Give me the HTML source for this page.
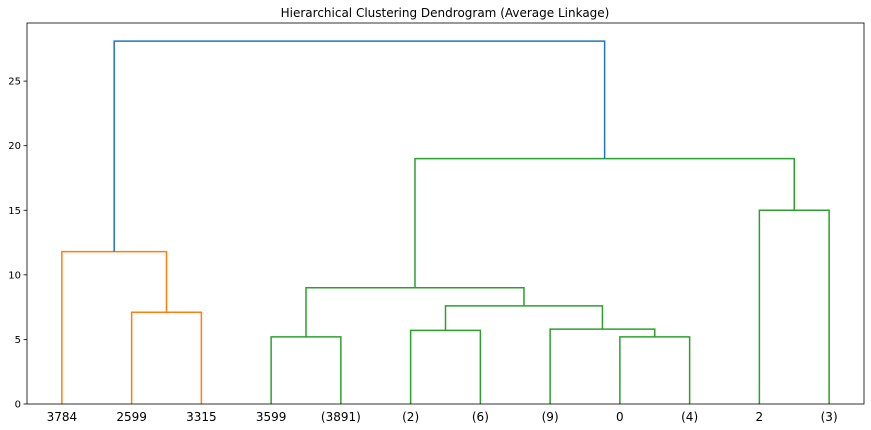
<!DOCTYPE html>
<html><head><meta charset="utf-8"><style>
html,body{margin:0;padding:0;background:#fff;}
svg{display:block;font-family:"DejaVu Sans","Liberation Sans",sans-serif;}
</style></head><body>
<svg id="chart" width="871" height="430">
<text x="445" y="17" text-anchor="middle" font-size="12" fill="#000">Hierarchical Clustering Dendrogram (Average Linkage)</text>
<g id="links"></g>
<g id="yaxis"></g>
<g id="xaxis"></g>
<rect x="27" y="23" width="837" height="381" fill="none" stroke="#000" stroke-width="0.8"/>
</svg>
<script>
const leafLabels = ["3784","2599","3315","3599","(3891)","(2)","(6)","(9)","0","(4)","2","(3)"];
// merges: [leftNode, rightNode] ; leaves 0..11, new clusters 12+
const mergeLeft = [1, 3, 5, 8, 7, 10, 0, 15, 13, 19, 18, 20];
const mergeRight = [2, 4, 6, 9, 16, 11, 12, 17, 14, 17, 17, 21];
const mergeHeights = [7.1, 5.2, 5.7, 5.2, 5.8, 15.0, 11.8, 7.6, 9.0, 19.0, 28.1];
const mergeColors = ["#ff7f0e","#2ca02c","#2ca02c","#2ca02c","#2ca02c","#2ca02c","#ff7f0e","#2ca02c","#2ca02c","#2ca02c","#1f77b4"];
const yTicks = [0,5,10,15,20,25];

// fix merges into real structure
const L = [1,3,5,8,7,10,0,14,13,19,18];
const R = [2,4,6,9,15,11,12,16,17,17,20];
// nodes: 12:[1,2] 13:[3,4] 14:[5,6] 15:[8,9] 16:[7,15] 17:[10,11] 18:[0,12] 19:[14,16] 20:[13,19] 21:[20,17] 22:[18,21]
const Lf = [1,3,5,8,7,10,0,14,13,20,18];
const Rf = [2,4,6,9,15,11,12,16,19,17,21];

const X0=27, X1=864, Y0=404, Y1=23, XMAX=leafLabels.length*10, YMAX=29.5;
const sx = v => X0 + (X1-X0)*v/XMAX;
const sy = v => Y0 - (Y0-Y1)*v/YMAX;
const NS="http://www.w3.org/2000/svg";
const pos=[], hgt=[];
leafLabels.forEach((l,i)=>{pos[i]=5+10*i;hgt[i]=0;});
const links=document.getElementById('links');
for(let k=0;k<mergeHeights.length;k++){
  const a=Lf[k], b=Rf[k], h=mergeHeights[k], id=leafLabels.length+k;
  pos[id]=(pos[a]+pos[b])/2; hgt[id]=h;
  const p=document.createElementNS(NS,'path');
  p.setAttribute('d',`M${sx(pos[a])},${sy(hgt[a])}V${sy(h)}H${sx(pos[b])}V${sy(hgt[b])}`);
  p.setAttribute('fill','none');p.setAttribute('stroke',mergeColors[k]);p.setAttribute('stroke-width','1.5');
  
  
  links.appendChild(p);
}
const ya=document.getElementById('yaxis');
yTicks.forEach(t=>{
  const ln=document.createElementNS(NS,'line');
  ln.setAttribute('x1',X0-3.5);ln.setAttribute('x2',X0);ln.setAttribute('y1',sy(t));ln.setAttribute('y2',sy(t));ln.setAttribute('stroke','#000');ln.setAttribute('stroke-width','0.8');
  
  
  ya.appendChild(ln);
  const tx=document.createElementNS(NS,'text');
  tx.setAttribute('x',X0-6);tx.setAttribute('y',sy(t)+3.5);tx.setAttribute('text-anchor','end');tx.setAttribute('font-size','10');
  tx.textContent=t;
  
  
  ya.appendChild(tx);
});
const xa=document.getElementById('xaxis');
leafLabels.forEach((l,i)=>{
  const tx=document.createElementNS(NS,'text');
  tx.setAttribute('x',sx(5+10*i));tx.setAttribute('y',421);tx.setAttribute('text-anchor','middle');tx.setAttribute('font-size','12');
  tx.textContent=l;
  
  
  xa.appendChild(tx);
});
</script>
</body></html>
